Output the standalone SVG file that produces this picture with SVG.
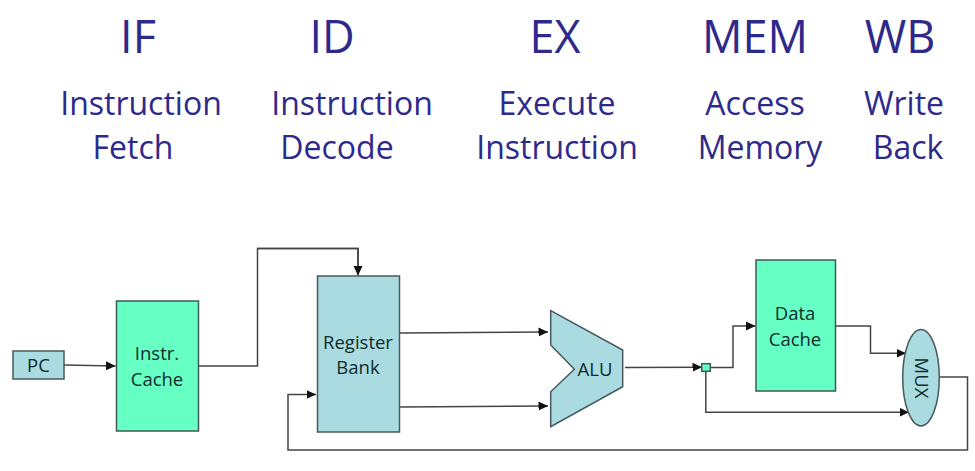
<svg xmlns="http://www.w3.org/2000/svg" width="975" height="471" viewBox="0 0 975 471">
<style>
text{font-family:"Open Sans","Noto Sans","Liberation Sans",sans-serif;text-anchor:middle}
.h{font-size:45px;fill:#2d2a8c}
.s{font-size:32px;fill:#2d2a8c}
.l{font-size:18.500px;fill:#0e2c2c}
.b{fill:#a9dbe0;stroke:#47595c;stroke-width:1.500}
.g{fill:#66ffc4;stroke:#3f5a55;stroke-width:1.500}
.c{fill:none;stroke:#444;stroke-width:1.500;marker-end:url(#a)}
.n{fill:none;stroke:#444;stroke-width:1.500}
</style>
<defs><marker id="a" markerUnits="userSpaceOnUse" markerWidth="11" markerHeight="11" refX="9.500" refY="5" orient="auto"><path d="M0 0.500L9.500 5L0 9.500Z" fill="#111"/></marker></defs>
<rect width="975" height="471" fill="#fff"/>
<g id="stages">
<text class="h" x="138" y="53">IF</text>
<text class="h" x="332" y="53">ID</text>
<text class="h" x="555" y="53">EX</text>
<text class="h" x="755" y="53">MEM</text>
<text class="h" x="900" y="53">WB</text>
<text class="s" x="141" y="115">Instruction</text>
<text class="s" x="133" y="159">Fetch</text>
<text class="s" x="352" y="115">Instruction</text>
<text class="s" x="337" y="159">Decode</text>
<text class="s" x="557" y="115">Execute</text>
<text class="s" x="557" y="159">Instruction</text>
<text class="s" x="755" y="115">Access</text>
<text class="s" x="760" y="159">Memory</text>
<text class="s" x="904" y="115">Write</text>
<text class="s" x="908" y="159">Back</text>
</g>
<g id="connectors">
<path class="c" d="M64 365L115.500 366"/>
<path class="n" d="M199 366H257.500V248.500H358V275"/>
<path class="c" d="M257.500 248.500H358V275.500"/>
<path class="c" d="M400 333L548 332"/>
<path class="c" d="M400 407L548 406"/>
<path class="c" d="M625 367.500L702 367.300"/>
<path class="c" d="M710 367.500H733V326H755.500"/>
<path class="c" d="M836 326H870.500V353.300H906"/>
<path class="c" d="M705.800 371V412.300H909"/>
<path class="c" d="M939.500 377H967.500V450H288V394.500H316"/>
</g>
<g id="pc"><rect class="b" x="13" y="351" width="51" height="28"/><text class="l" x="38.500" y="371.500">PC</text></g>
<g id="instr-cache"><rect class="g" x="116.500" y="301" width="82" height="130"/><text class="l" x="157" y="360">Instr.</text><text class="l" x="157" y="386">Cache</text></g>
<g id="register-bank"><rect class="b" x="317.500" y="276" width="82" height="156"/><text class="l" x="358" y="349">Register</text><text class="l" x="358" y="374">Bank</text></g>
<g id="alu"><path class="b" d="M550.700 310.700L622.700 350V386.700L550.700 426.700V391.700L574.300 369.300L550.700 345Z"/><text class="l" x="595" y="375.500">ALU</text></g>
<g id="junction"><rect class="g" x="701.700" y="363.700" width="8.600" height="7.600"/></g>
<g id="data-cache"><rect class="g" x="756" y="260" width="79.500" height="131"/><text class="l" x="795" y="320">Data</text><text class="l" x="795" y="345.500">Cache</text></g>
<g id="mux"><ellipse class="b" cx="921" cy="377.700" rx="18.300" ry="48.300"/><text class="l" transform="translate(915 378) rotate(90)">MUX</text></g>
</svg>
